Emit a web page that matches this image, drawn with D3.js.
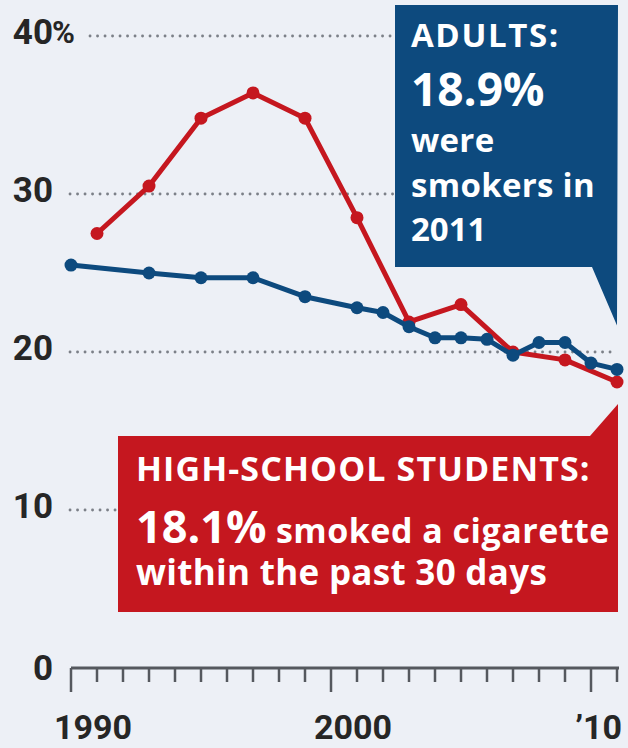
<!DOCTYPE html>
<html>
<head>
<meta charset="utf-8">
<title>Smoking rates</title>
<script src="https://d3js.org/d3.v7.min.js"></script>
<style>
  html, body { margin: 0; padding: 0; background: #edf0f6; }
  svg { display: block; }
</style>
</head>
<body>
<script>
// high-school students, smoked in past 30 days (%)
const studentYears = [1991, 1993, 1995, 1997, 1999, 2001, 2003, 2005, 2007, 2009, 2011]
const studentRates = [27.5, 30.5, 34.8, 36.4, 34.8, 28.5, 21.9, 23.0, 20.0, 19.5, 18.1]

// adults who were smokers (%)
const adultYears = [1990, 1993, 1995, 1997, 1999, 2001, 2002, 2003, 2004, 2005, 2006, 2007, 2008, 2009, 2010, 2011]
const adultRates = [25.5, 25.0, 24.7, 24.7, 23.5, 22.8, 22.5, 21.6, 20.9, 20.9, 20.8, 19.8, 20.6, 20.6, 19.3, 18.9]

const yTicks = [0, 10, 20, 30, 40]
const xLabelYears = [1990, 2000, 2010]
const xLabelTexts = ["1990", "2000", "\u201910"]

const width = 628
const height = 748
const red = "#c5171f"
const blue = "#0d4a7e"

const svg = d3.select("body").append("svg")
    .attr("width", width)
    .attr("height", height)

svg.append("rect")
    .attr("width", width)
    .attr("height", height)
    .attr("fill", "#edf0f6")

const x = d3.scaleLinear().domain([1990, 2011]).range([71, 617])
const y = d3.scaleLinear().domain([0, 40]).range([668, 36])

// gridlines + y labels
svg.append("g").selectAll("line")
  .data(yTicks.filter(d => d > 0))
  .join("line")
    .attr("x1", d => d == 40 ? 90 : 70)
    .attr("x2", x(2011) - 5)
    .attr("y1", d => y(d))
    .attr("y2", d => y(d))
    .attr("stroke", "#7c8088")
    .attr("stroke-width", 2.8)
    .attr("stroke-linecap", "round")
    .attr("stroke-dasharray", "0.1,7.4")

const ylab = svg.append("g")
    .style("font", "bold 35px Roboto")
    .attr("fill", "#262626")
ylab.selectAll("text")
  .data(yTicks)
  .join("text")
    .attr("x", 53)
    .attr("y", d => y(d))
    .attr("dy", d => d == 0 ? "0.33em" : "0.22em")
    .attr("text-anchor", "end")
    .text(d => d)
ylab.append("text")
    .attr("x", 52)
    .attr("y", y(40))
    .attr("dy", "0.22em")
    .style("font-size", "31px")
    .text("%")

// x axis
const years = d3.range(1990, 2012)
const axis = svg.append("g").attr("stroke", "#55585e")
axis.append("line")
    .attr("x1", x(1990))
    .attr("x2", x(2011) + 2)
    .attr("y1", y(0))
    .attr("y2", y(0))
    .attr("stroke-width", 3)
axis.selectAll(".tick")
  .data(years)
  .join("line")
    .attr("class", "tick")
    .attr("x1", d => x(d))
    .attr("x2", d => x(d))
    .attr("y1", y(0))
    .attr("y2", d => y(0) + (d % 10 == 0 ? 24 : 14))
    .attr("stroke-width", 2.5)

svg.append("g")
    .style("font", "bold 34px Roboto")
    .attr("fill", "#262626")
  .selectAll("text")
  .data(xLabelYears)
  .join("text")
    .attr("x", (d, i) => i == 2 ? x(2011) + 5 : x(d) + 22)
    .attr("y", 739)
    .attr("text-anchor", (d, i) => i == 2 ? "end" : "middle")
    .text((d, i) => xLabelTexts[i])

// lines
const line = d3.line().x(d => x(d[0])).y(d => y(d[1]))

function drawSeries(yrs, vals, color) {
  const pts = yrs.map((yr, i) => [yr, vals[i]])
  const g = svg.append("g")
  g.append("path")
      .datum(pts)
      .attr("d", line)
      .attr("fill", "none")
      .attr("stroke", color)
      .attr("stroke-width", 5)
      .attr("stroke-linejoin", "round")
  g.selectAll("circle")
    .data(pts)
    .join("circle")
      .attr("cx", d => x(d[0]))
      .attr("cy", d => y(d[1]))
      .attr("r", 6.5)
      .attr("fill", color)
}

drawSeries(studentYears, studentRates, red)
drawSeries(adultYears, adultRates, blue)

// adults callout
const bTipX = x(2011)
const bTipY = y(adultRates[adultRates.length - 1]) - 44
svg.append("path")
    .attr("d", `M395,5 H${bTipX + 1} L${bTipX},${bTipY} L592,267 H395 Z`)
    .attr("fill", blue)

const bt = svg.append("g")
    .attr("fill", "#fff")
    .style("font-family", "'Open Sans'")
    .style("font-weight", "bold")
const bLines = [["ADULTS:", 47, 33, 1.6], ["18.9%", 106, 46, 0], ["were", 152, 33, 0.3], ["smokers in", 197, 33, 0.3], ["2011", 241, 33, 0]]
bt.selectAll("text")
  .data(bLines)
  .join("text")
    .attr("x", 411)
    .attr("y", d => d[1])
    .style("font-size", d => d[2] + "px")
    .style("letter-spacing", d => d[3] + "px")
    .text(d => d[0])

// students callout
const rTipX = x(2011) + 1
const rTipY = y(studentRates[studentRates.length - 1]) + 22
svg.append("path")
    .attr("d", `M118,612 V436 H590 L${rTipX},${rTipY} V612 Z`)
    .attr("fill", red)

const rt = svg.append("g")
    .attr("fill", "#fff")
    .style("font-family", "'Open Sans'")
    .style("font-weight", "bold")
rt.append("text")
    .attr("x", 136)
    .attr("y", 481)
    .style("font-size", "34px")
    .style("letter-spacing", "1.1px")
    .text("HIGH-SCHOOL STUDENTS:")
const l2 = rt.append("text")
    .attr("x", 136)
    .attr("y", 543)
l2.append("tspan").style("font-size", "45px").text("18.1%")
l2.append("tspan").style("font-size", "34px").style("letter-spacing", "0.5px").text(" smoked a cigarette")
rt.append("text")
    .attr("x", 136)
    .attr("y", 585)
    .style("font-size", "35px")
    .style("letter-spacing", "0.3px")
    .text("within the past 30 days")
</script>
</body>
</html>
